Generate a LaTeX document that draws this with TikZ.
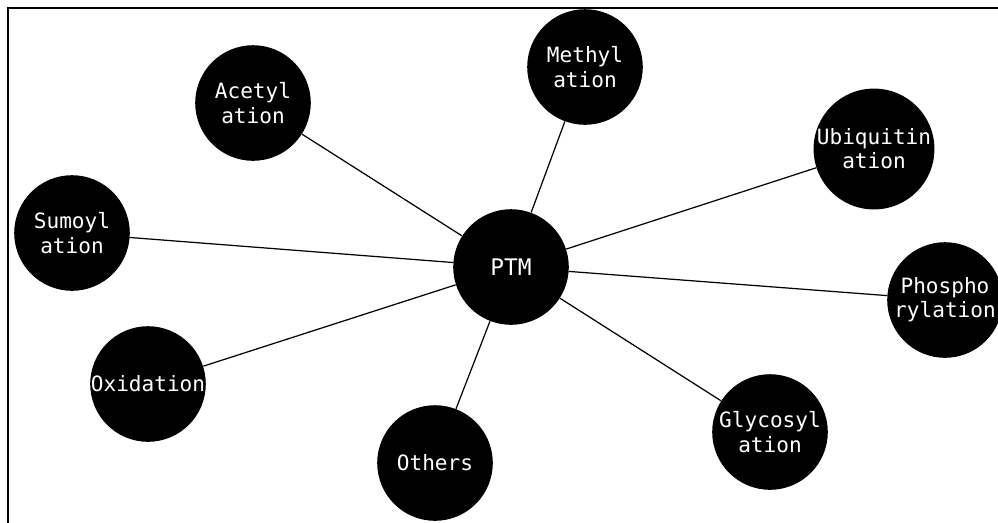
\documentclass[tikz,border=0pt]{standalone}
\usepackage{fontspec}
\setmonofont{DejaVu Sans Mono}
\usepackage{tikz}

\tikzset{ptmball/.style={circle, fill=black, text=white, minimum size=116*0.567pt, inner sep=0pt, align=center, font=\ttfamily\fontsize{12}{13.8}\selectfont}}

\begin{document}
\begin{tikzpicture}[x=0.02cm, y=-0.02cm]
    \useasboundingbox (0,0) rectangle (998,522);
    \draw [line width=1.2pt] (8,540) -- (8,8) -- (1020,8);
    \node[ptmball, font=\ttfamily\fontsize{13}{15}\selectfont] (ptm) at (511,267) {PTM};
    \node[ptmball] (methyl) at (585,67) {Methyl\\ation};
    \node[ptmball] (acetyl) at (253,103) {Acetyl\\ation};
    \node[ptmball] (ubiq) at (874,149) {Ubiquitin\\ation};
    \node[ptmball] (sumo) at (72,233) {Sumoyl\\ation};
    \node[ptmball] (phospho) at (945,300) {Phospho\\rylation};
    \node[ptmball] (oxid) at (148,384) {Oxidation};
    \node[ptmball] (others) at (435,463) {Others};
    \node[ptmball] (glyco) at (770,432) {Glycosyl\\ation};
    \draw [line width=0.7pt] (ptm) -- (methyl);
    \draw [line width=0.7pt] (ptm) -- (acetyl);
    \draw [line width=0.7pt] (ptm) -- (ubiq);
    \draw [line width=0.7pt] (ptm) -- (sumo);
    \draw [line width=0.7pt] (ptm) -- (phospho);
    \draw [line width=0.7pt] (ptm) -- (oxid);
    \draw [line width=0.7pt] (ptm) -- (others);
    \draw [line width=0.7pt] (ptm) -- (glyco);
\end{tikzpicture}
\end{document}
